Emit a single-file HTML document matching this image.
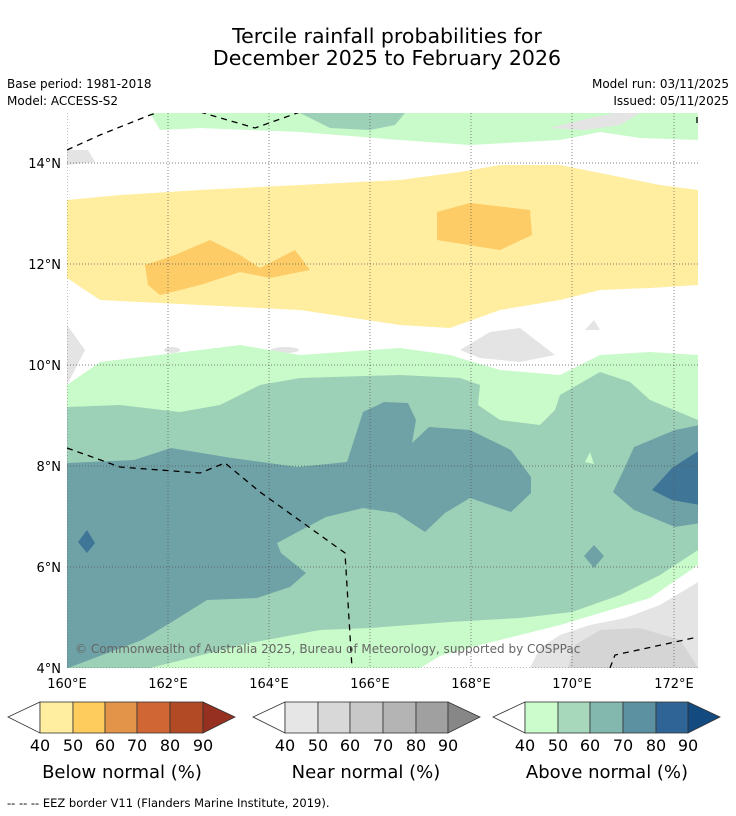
<!DOCTYPE html>
<html><head><meta charset="utf-8"><style>
body{margin:0;background:#fff;font-family:"DejaVu Sans","Liberation Sans",sans-serif;}
svg{display:block}
</style></head><body>
<svg width="736" height="816" viewBox="0 0 736 816" font-family="DejaVu Sans, Liberation Sans, sans-serif">
<text x="387" y="43" font-size="20.5" text-anchor="middle">Tercile rainfall probabilities for</text>
<text x="387" y="65" font-size="20.5" text-anchor="middle">December 2025 to February 2026</text>
<text x="7" y="88" font-size="12">Base period: 1981-2018</text>
<text x="7" y="105" font-size="12">Model: ACCESS-S2</text>
<text x="729" y="88" font-size="12" text-anchor="end">Model run: 03/11/2025</text>
<text x="729" y="105" font-size="12" text-anchor="end">Issued: 05/11/2025</text>

<defs><clipPath id="mc"><rect x="67" y="113" width="631" height="555"/></clipPath></defs>
<g clip-path="url(#mc)">
<rect x="67" y="113" width="631" height="555" fill="#fff"/>
<polygon fill="#c9fac9" points="150,113 698,113 698,140 640,138 600,132 560,140 470,145 400,140 300,132 200,128 160,130"/>
<polygon fill="#9dd1b7" points="300,113 405,113 395,125 370,130 330,128"/>
<polygon fill="#e4e4e4" points="550,128 590,118 615,113 640,113 620,125 585,130"/>
<polygon fill="#e4e4e4" points="67,150 88,150 95,162 67,165"/>
<polygon fill="#ffeda0" points="67,200 120,195 200,190 300,185 400,180 460,172 500,165 560,165 610,175 660,185 698,190 698,285 650,288 600,290 560,300 500,310 450,328 400,325 300,310 200,305 100,300 67,278"/>
<polygon fill="#fecc66" points="145,265 175,255 210,240 240,255 260,268 295,250 310,270 270,278 240,272 200,285 160,295 148,285"/>
<polygon fill="#fecc66" points="437,212 470,203 530,210 532,235 500,250 437,240"/>
<polygon fill="#e4e4e4" points="67,325 85,350 67,385"/>
<polygon fill="#e4e4e4" points="460,350 490,332 520,328 555,355 520,362 480,358"/>
<polygon fill="#e4e4e4" points="585,330 600,330 594,320"/>
<ellipse cx="172" cy="350" rx="8" ry="3" fill="#e4e4e4"/>
<ellipse cx="285" cy="350" rx="14" ry="3" fill="#e4e4e4"/>
<polygon fill="#c9fac9" points="67,385 100,362 200,350 240,345 300,355 400,348 450,355 500,370 560,375 600,355 650,352 698,355 698,668 67,668"/>
<polygon fill="#9dd1b7" points="67,407 120,405 180,412 220,405 260,385 300,378 400,375 460,378 480,385 478,405 500,420 540,425 555,410 560,395 600,372 630,382 650,400 698,420 698,550 660,575 620,595 572,612 520,618 450,622 370,628 320,630 250,643 150,668 67,668"/>
<polygon fill="#6ea2a6" points="67,463 134,460 171,448 232,458 298,467 347,462 363,412 384,402 408,403 416,420 412,443 429,427 470,430 511,450 531,477 531,493 511,512 470,498 445,513 425,532 396,513 363,508 326,517 277,543 281,553 306,573 290,587 257,598 207,600 175,620 142,640 68,668 67,668"/>
<polygon fill="#3f7597" points="87,530 95,543 87,553 78,542"/>
<polygon fill="#6ea2a6" points="634,447 675,430 700,425 700,523 675,527 634,510 613,492 625,467"/>
<polygon fill="#3f7597" points="700,450 672,468 652,490 672,500 700,505"/>
<polygon fill="#6ea2a6" points="594,545 604,556 594,568 584,556"/>
<polygon fill="#c9fac9" points="590,452 594,464 585,462"/>
<polygon fill="#fff" points="698,565 650,598 610,610 560,625 520,635 480,645 440,656 420,668 698,668"/>
<polygon fill="#e4e4e4" points="698,582 660,605 625,618 590,625 560,635 540,648 530,668 698,668"/>
<polygon fill="#d5d5d5" points="575,645 600,630 640,628 680,640 690,655 698,668 568,668"/>
<g stroke="#555" stroke-width="0.7" stroke-dasharray="1,2">
<line x1="67" y1="113" x2="67" y2="668"/><line x1="168" y1="113" x2="168" y2="668"/><line x1="269" y1="113" x2="269" y2="668"/><line x1="370" y1="113" x2="370" y2="668"/><line x1="471" y1="113" x2="471" y2="668"/><line x1="572" y1="113" x2="572" y2="668"/><line x1="674" y1="113" x2="674" y2="668"/>
<line x1="67" y1="163" x2="698" y2="163"/><line x1="67" y1="264" x2="698" y2="264"/><line x1="67" y1="365" x2="698" y2="365"/><line x1="67" y1="466" x2="698" y2="466"/><line x1="67" y1="567" x2="698" y2="567"/><line x1="67" y1="668" x2="698" y2="668"/>
</g>
<g fill="none" stroke="#000" stroke-width="1.3" stroke-dasharray="6,5">
<polyline points="67,150 100,135 150,115 160,112"/>
<polyline points="200,112 255,128 300,112"/>
<polyline points="67,448 120,467 200,473 225,463 260,492 345,553 352,668"/>
<polyline points="610,668 615,655 698,637"/>
<polyline points="697,117 697,126"/>
</g>
<text x="75" y="653" font-size="12" fill="#666">© Commonwealth of Australia 2025, Bureau of Meteorology, supported by COSPPac</text>
</g>
<g font-size="13">
<text x="61" y="168" text-anchor="end">14°N</text><text x="61" y="269" text-anchor="end">12°N</text><text x="61" y="370" text-anchor="end">10°N</text><text x="61" y="471" text-anchor="end">8°N</text><text x="61" y="572" text-anchor="end">6°N</text><text x="61" y="673" text-anchor="end">4°N</text>
</g>
<g font-size="13" text-anchor="middle">
<text x="67" y="688">160°E</text><text x="168" y="688">162°E</text><text x="269" y="688">164°E</text><text x="370" y="688">166°E</text><text x="471" y="688">168°E</text><text x="572" y="688">170°E</text><text x="674" y="688">172°E</text>
</g>
<g stroke="#333" stroke-width="0.8">
<polygon points="40,702 8,717 40,733" fill="#fff"/>
<rect x="40" y="702" width="33" height="31" fill="#ffeda0"/><rect x="73" y="702" width="32" height="31" fill="#fecc5c"/><rect x="105" y="702" width="32" height="31" fill="#e39448"/><rect x="137" y="702" width="33" height="31" fill="#d06633"/><rect x="170" y="702" width="33" height="31" fill="#b24a26"/>
<polygon points="203,702 235,717 203,733" fill="#963020"/>
</g>
<g stroke="#333" stroke-width="0.8">
<polygon points="285,702 253,717 285,733" fill="#fff"/>
<rect x="285" y="702" width="33" height="31" fill="#e6e6e6"/><rect x="318" y="702" width="32" height="31" fill="#d8d8d8"/><rect x="350" y="702" width="33" height="31" fill="#c8c8c8"/><rect x="383" y="702" width="33" height="31" fill="#b4b4b4"/><rect x="416" y="702" width="32" height="31" fill="#a0a0a0"/>
<polygon points="448,702 480,717 448,733" fill="#878787"/>
</g>
<g stroke="#333" stroke-width="0.8">
<polygon points="525,702 493,717 525,733" fill="#fff"/>
<rect x="525" y="702" width="33" height="31" fill="#ccfccc"/><rect x="558" y="702" width="32" height="31" fill="#a7d8bc"/><rect x="590" y="702" width="33" height="31" fill="#82b8ad"/><rect x="623" y="702" width="33" height="31" fill="#5b91a1"/><rect x="656" y="702" width="32" height="31" fill="#2f6496"/>
<polygon points="688,702 720,717 688,733" fill="#134a80"/>
</g>
<g font-size="16" text-anchor="middle">
<text x="40" y="751">40</text><text x="73" y="751">50</text><text x="105" y="751">60</text><text x="137" y="751">70</text><text x="170" y="751">80</text><text x="203" y="751">90</text>
<text x="285" y="751">40</text><text x="318" y="751">50</text><text x="350" y="751">60</text><text x="383" y="751">70</text><text x="416" y="751">80</text><text x="448" y="751">90</text>
<text x="525" y="751">40</text><text x="558" y="751">50</text><text x="590" y="751">60</text><text x="623" y="751">70</text><text x="656" y="751">80</text><text x="688" y="751">90</text>
</g>
<g font-size="18" text-anchor="middle">
<text x="122" y="778">Below normal (%)</text><text x="366" y="778">Near normal (%)</text><text x="607" y="778">Above normal (%)</text>
</g>
<text x="7" y="807" font-size="11.5">--  --  -- EEZ border V11 (Flanders Marine Institute, 2019).</text>
</svg>
</body></html>
